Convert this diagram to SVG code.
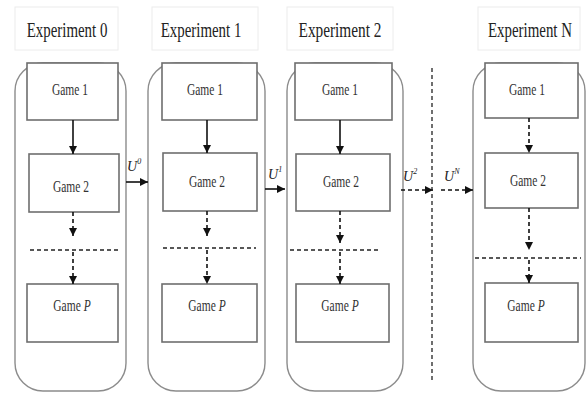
<svg xmlns="http://www.w3.org/2000/svg" width="587" height="393" viewBox="0 0 587 393">
  <defs>
    <marker id="head" viewBox="0 0 10 10" refX="10" refY="5" markerWidth="8" markerHeight="9" markerUnits="userSpaceOnUse" orient="auto">
      <path d="M0,0 L10,5 L0,10 Z" fill="#111"/>
    </marker>
    <style>
      .title-box { fill: #ffffff; stroke: #ececec; stroke-width: 1; }
      .title { font-family: "Liberation Serif", "Times New Roman", serif; font-size: 21px; fill: #222; text-anchor: middle; }
      .frame { fill: #ffffff; stroke: #8c8c8c; stroke-width: 1.4; }
      .game { fill: #ffffff; stroke: #6e6e6e; stroke-width: 1.6; }
      .label { font-family: "Liberation Serif", "Times New Roman", serif; font-size: 16px; fill: #333; text-anchor: middle; }
      .it { font-style: italic; }
      .solid { stroke: #111; stroke-width: 1.6; fill: none; marker-end: url(#head); }
      .dash { stroke: #111; stroke-width: 1.6; fill: none; stroke-dasharray: 4 3; marker-end: url(#head); }
      .sep { stroke: #222; stroke-width: 1.3; fill: none; stroke-dasharray: 4 3; }
      .u { font-family: "Liberation Serif", "Times New Roman", serif; font-style: italic; font-size: 14px; fill: #222; }
      .sup { font-size: 8px; }
    </style>
  </defs>
  <rect width="587" height="393" fill="#ffffff"/>

  <!-- Experiment 0 -->
  <g id="experiment-0">
    <rect class="title-box" x="15" y="7" width="103" height="43"/>
    <text class="title" transform="translate(67,37) scale(0.71,1)">Experiment 0</text>
    <rect class="frame" x="15" y="63" width="111" height="328" rx="28" ry="28"/>
  </g>
  <g id="exp0-game1">
    <rect class="game" x="27" y="63" width="91" height="57"/>
    <text class="label" transform="translate(70,95) scale(0.72,1)">Game 1</text>
  </g>
  <g id="exp0-game2">
    <rect class="game" x="29" y="154" width="90" height="58"/>
    <text class="label" transform="translate(71,192) scale(0.72,1)">Game 2</text>
  </g>
  <g id="exp0-gameP">
    <rect class="game" x="27" y="284" width="91" height="58"/>
    <text class="label" transform="translate(72,311) scale(0.72,1)">Game <tspan class="it">P</tspan></text>
  </g>

  <!-- Experiment 1 -->
  <g id="experiment-1">
    <rect class="title-box" x="152" y="7" width="106" height="43"/>
    <text class="title" transform="translate(201,37) scale(0.71,1)">Experiment 1</text>
    <rect class="frame" x="148" y="63" width="117" height="328" rx="28" ry="28"/>
  </g>
  <g id="exp1-game1">
    <rect class="game" x="162" y="63" width="95" height="57"/>
    <text class="label" transform="translate(205,95) scale(0.72,1)">Game 1</text>
  </g>
  <g id="exp1-game2">
    <rect class="game" x="163" y="153" width="94" height="58"/>
    <text class="label" transform="translate(207,187) scale(0.72,1)">Game 2</text>
  </g>
  <g id="exp1-gameP">
    <rect class="game" x="162" y="284" width="95" height="58"/>
    <text class="label" transform="translate(207,311) scale(0.72,1)">Game <tspan class="it">P</tspan></text>
  </g>

  <!-- Experiment 2 -->
  <g id="experiment-2">
    <rect class="title-box" x="287" y="7" width="106" height="43"/>
    <text class="title" transform="translate(340,37) scale(0.73,1)">Experiment 2</text>
    <rect class="frame" x="287" y="63" width="116" height="328" rx="28" ry="28"/>
  </g>
  <g id="exp2-game1">
    <rect class="game" x="295" y="63" width="97" height="57"/>
    <text class="label" transform="translate(340,95) scale(0.72,1)">Game 1</text>
  </g>
  <g id="exp2-game2">
    <rect class="game" x="296" y="154" width="94" height="57"/>
    <text class="label" transform="translate(341,187) scale(0.72,1)">Game 2</text>
  </g>
  <g id="exp2-gameP">
    <rect class="game" x="296" y="284" width="93" height="58"/>
    <text class="label" transform="translate(340,311) scale(0.72,1)">Game <tspan class="it">P</tspan></text>
  </g>

  <!-- Experiment N -->
  <g id="experiment-n">
    <rect class="title-box" x="478" y="7" width="102" height="43"/>
    <text class="title" transform="translate(530,37) scale(0.71,1)">Experiment N</text>
    <rect class="frame" x="473" y="63" width="112" height="328" rx="28" ry="28"/>
  </g>
  <g id="expN-game1">
    <rect class="game" x="485" y="63" width="93" height="55"/>
    <text class="label" transform="translate(527,95) scale(0.72,1)">Game 1</text>
  </g>
  <g id="expN-game2">
    <rect class="game" x="485" y="153" width="93" height="55"/>
    <text class="label" transform="translate(528,186) scale(0.72,1)">Game 2</text>
  </g>
  <g id="expN-gameP">
    <rect class="game" x="485" y="283" width="93" height="59"/>
    <text class="label" transform="translate(526,311) scale(0.72,1)">Game <tspan class="it">P</tspan></text>
  </g>

  <!-- Connectors -->
  <g id="connectors">
    <!-- Experiment 0 -->
    <line class="solid" x1="73" y1="120" x2="73" y2="154"/>
    <line class="dash" x1="73" y1="212" x2="73" y2="236"/>
    <line class="sep" x1="30" y1="250" x2="121" y2="250"/>
    <line class="dash" x1="73" y1="252" x2="73" y2="284"/>
    <!-- Experiment 1 -->
    <line class="solid" x1="207" y1="120" x2="207" y2="153"/>
    <line class="dash" x1="207" y1="211" x2="207" y2="236"/>
    <line class="sep" x1="163" y1="248" x2="256" y2="248"/>
    <line class="dash" x1="207" y1="250" x2="207" y2="284"/>
    <!-- Experiment 2 -->
    <line class="solid" x1="340" y1="120" x2="340" y2="154"/>
    <line class="dash" x1="340" y1="211" x2="340" y2="243"/>
    <line class="sep" x1="290" y1="250" x2="380" y2="250"/>
    <line class="dash" x1="340" y1="252" x2="340" y2="284"/>
    <!-- Experiment N -->
    <line class="dash" x1="529" y1="118" x2="529" y2="153"/>
    <line class="dash" x1="529" y1="208" x2="529" y2="250"/>
    <line class="sep" x1="475" y1="258" x2="581" y2="258"/>
    <line class="dash" x1="529" y1="260" x2="529" y2="283"/>
    <!-- between experiments -->
    <line class="solid" x1="126" y1="182" x2="148" y2="182"/>
    <text class="u" x="127" y="171">U<tspan class="sup" dy="-7">0</tspan></text>
    <line class="solid" x1="265" y1="189" x2="285" y2="189"/>
    <text class="u" x="268" y="179">U<tspan class="sup" dy="-7">1</tspan></text>
    <line class="dash" x1="401" y1="190" x2="433" y2="190"/>
    <text class="u" x="403" y="181">U<tspan class="sup" dy="-7">2</tspan></text>
    <line class="dash" x1="441" y1="190" x2="473" y2="190"/>
    <text class="u" x="444" y="181">U<tspan class="sup" dy="-7">N</tspan></text>
    <!-- gap marker -->
    <line class="sep" x1="432" y1="68" x2="432" y2="382"/>
  </g>
</svg>
